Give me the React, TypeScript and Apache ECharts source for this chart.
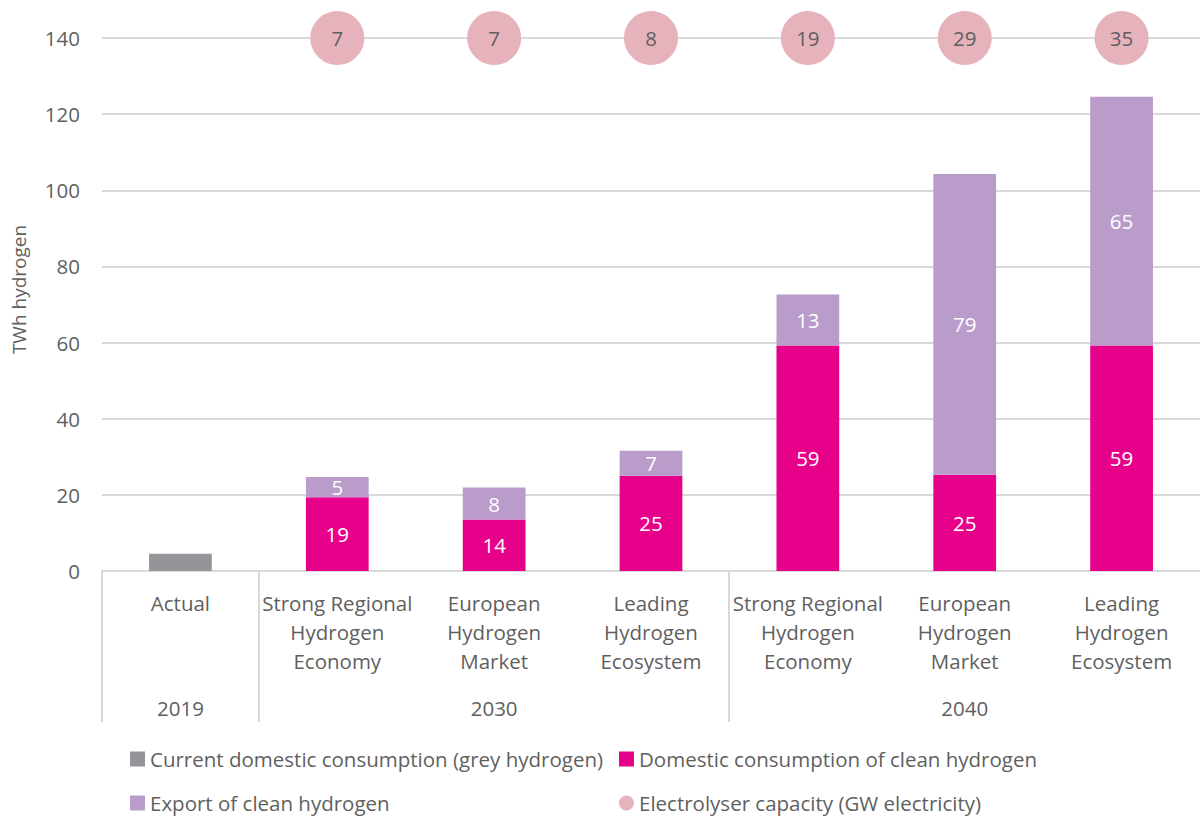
import React, { useEffect, useRef } from "react";
import * as echarts from "echarts";

const categories = [
  "Actual",
  "Strong Regional\nHydrogen\nEconomy",
  "European\nHydrogen\nMarket",
  "Leading\nHydrogen\nEcosystem",
  "Strong Regional\nHydrogen\nEconomy",
  "European\nHydrogen\nMarket",
  "Leading\nHydrogen\nEcosystem",
];
const yearLabels = ["2019", "", "2030", "", "", "2040", ""];
const groupStartIndex = [0, 1, 4];
const greyHydrogen = [4.5, null, null, null, null, null, null];
const cleanDomestic = [null, 19.4, 13.5, 25.0, 59.2, 25.3, 59.2];
const cleanExport = [null, 5.3, 8.4, 6.6, 13.4, 79.0, 65.4];
const electrolyserGW = [null, 7, 7, 8, 19, 29, 35];
const yTicks = { min: 0, max: 140, interval: 20 };

const S_GREY = "Current domestic consumption (grey hydrogen)";
const S_CLEAN = "Domestic consumption of clean hydrogen";
const S_EXPORT = "Export of clean hydrogen";
const S_ELEC = "Electrolyser capacity (GW electricity)";

const FONT = "'Open Sans', sans-serif";
const TXT = "#5f5f5f";
const FS = 20.5;

export default function App() {
  const ref = useRef<HTMLDivElement>(null);
  useEffect(() => {
    if (!ref.current) return;
    const chart = echarts.init(ref.current, null, { renderer: "svg" });
    const labelFmt = (p: any) =>
      p.value == null ? "" : String(Math.round(p.value));
    const legendItem = (name: string, icon: string, left: number, top: number) => ({
      left,
      top,
      padding: 0,
      itemWidth: 15,
      itemHeight: 15,
      textStyle: { fontSize: FS, color: TXT, fontFamily: FONT, lineHeight: 24 },
      data: [{ name, icon }],
    });
    chart.setOption({
      animation: false,
      textStyle: { fontFamily: FONT },
      grid: { left: 102, right: 0, top: 38, bottom: 245, containLabel: false },
      xAxis: [
        {
          type: "category",
          data: categories,
          axisLine: { show: true, lineStyle: { color: "#d9d9d9", width: 2 } },
          axisTick: { show: false },
          axisLabel: {
            interval: 0,
            margin: 17,
            fontSize: FS,
            lineHeight: 29,
            color: TXT,
            fontFamily: FONT,
          },
        },
        {
          type: "category",
          position: "bottom",
          data: yearLabels,
          axisLine: { show: false },
          axisTick: { show: false },
          axisLabel: {
            interval: 0,
            margin: 126,
            fontSize: FS,
            color: TXT,
            fontFamily: FONT,
          },
        },
      ],
      yAxis: {
        type: "value",
        min: yTicks.min,
        max: yTicks.max,
        interval: yTicks.interval,
        name: "TWh hydrogen",
        nameLocation: "middle",
        nameGap: 74,
        nameTextStyle: {
          fontSize: 19,
          color: TXT,
          fontFamily: FONT,
          padding: [0, 0, 0, 30],
        },
        axisLine: { show: false },
        axisTick: { show: false },
        axisLabel: { margin: 22, fontSize: FS, color: TXT, fontFamily: FONT },
        splitLine: { lineStyle: { color: "#d9d9d9", width: 2 } },
      },
      legend: [
        legendItem(S_GREY, "rect", 130, 747),
        legendItem(S_EXPORT, "rect", 130, 791),
        legendItem(S_CLEAN, "rect", 619, 747),
        legendItem(S_ELEC, "circle", 619, 791),
      ],
      series: [
        {
          name: S_GREY,
          type: "bar",
          stack: "total",
          barWidth: "40%",
          data: greyHydrogen,
          itemStyle: { color: "#939598" },
        },
        {
          name: S_CLEAN,
          type: "bar",
          stack: "total",
          barWidth: "40%",
          data: cleanDomestic,
          itemStyle: { color: "#e6008a" },
          label: {
            show: true,
            position: "inside",
            color: "#ffffff",
            fontSize: FS,
            fontFamily: FONT,
            formatter: labelFmt,
          },
        },
        {
          name: S_EXPORT,
          type: "bar",
          stack: "total",
          barWidth: "40%",
          data: cleanExport,
          itemStyle: { color: "#b99cc9" },
          label: {
            show: true,
            position: "inside",
            color: "#ffffff",
            fontSize: FS,
            fontFamily: FONT,
            formatter: labelFmt,
          },
        },
        {
          name: S_ELEC,
          type: "scatter",
          clip: false,
          symbol: "circle",
          symbolSize: 54,
          itemStyle: { color: "#e6b3bc", opacity: 1 },
          data: electrolyserGW.map((v) => (v == null ? null : yTicks.max)),
          label: {
            show: true,
            position: "inside",
            color: TXT,
            fontSize: FS,
            fontFamily: FONT,
            formatter: (p: any) => String(electrolyserGW[p.dataIndex]),
          },
          z: 5,
        },
      ],
    });
    const c0 = chart.convertToPixel({ xAxisIndex: 0 }, 0) as number;
    const c1 = chart.convertToPixel({ xAxisIndex: 0 }, 1) as number;
    const half = (c1 - c0) / 2;
    const y0 = chart.convertToPixel({ yAxisIndex: 0 }, 0) as number;
    chart.setOption({
      graphic: groupStartIndex.map((idx) => {
        const x = Math.round((chart.convertToPixel({ xAxisIndex: 0 }, idx) as number) - half);
        return {
          type: "line",
          shape: { x1: x, y1: y0, x2: x, y2: y0 + 151 },
          style: { stroke: "#d9d9d9", lineWidth: 2 },
          silent: true,
        };
      }),
    });
    return () => chart.dispose();
  }, []);
  return (
    <div
      ref={ref}
      style={{ position: "fixed", left: 0, top: 0, width: 1200, height: 816, background: "#fff" }}
    />
  );
}
